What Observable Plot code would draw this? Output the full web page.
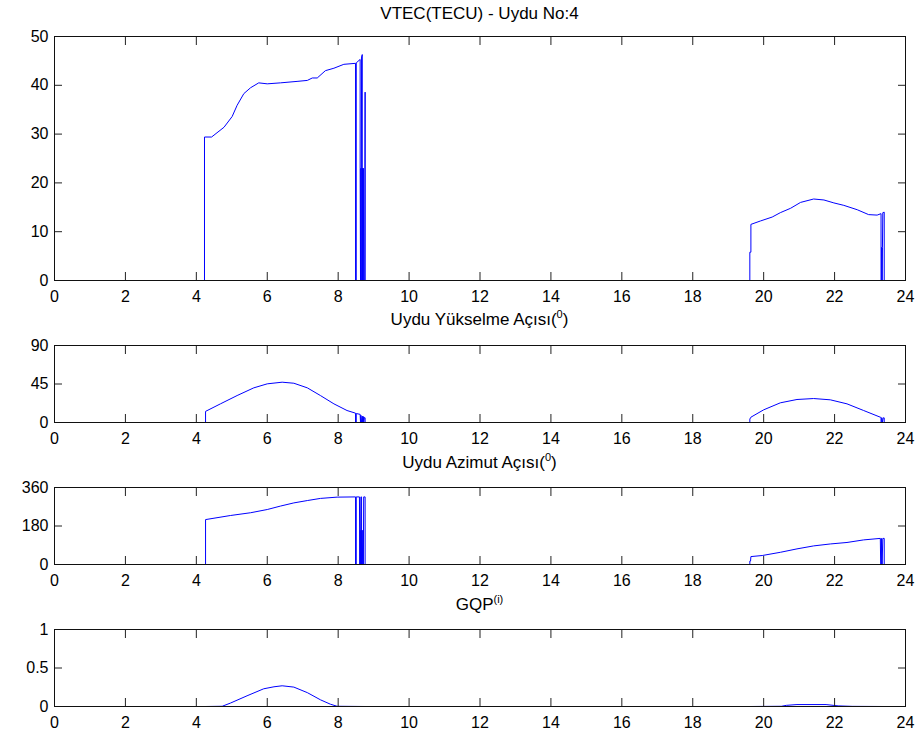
<!DOCTYPE html>
<html><head><meta charset="utf-8">
<script src="https://cdn.jsdelivr.net/npm/d3@7"></script>
<script src="https://cdn.jsdelivr.net/npm/@observablehq/plot@0.6"></script>
<style>
body{margin:0;background:#fff;}
#chart{position:relative;width:922px;height:738px;font-family:"Liberation Sans",Arial,sans-serif;overflow:hidden;}
.title{position:absolute;left:54px;width:851px;text-align:center;font-size:17px;color:#000;line-height:17px;z-index:2;white-space:nowrap;}
.title sup{font-size:11px;vertical-align:7px;line-height:0;}
</style></head><body><div id="chart"></div>
<script>
// ---- data (hour of day, value) ----
const xTicks = [0,2,4,6,8,10,12,14,16,18,20,22,24];

const vtecTicks = [0,10,20,30,40,50];
const vtecPass1 = [[4.23,0],[4.23,29.4],[4.43,29.4],[4.78,31.4],[5.01,33.6],[5.15,35.9],[5.34,38.3],[5.53,39.5],[5.76,40.5],[6.0,40.3],[6.37,40.5],[6.84,40.8],[7.13,41.0],[7.27,41.5],[7.41,41.5],[7.64,43.0],[7.88,43.5],[8.16,44.3],[8.49,44.5],[8.49,0],[8.51,0],[8.51,44.6],[8.62,45.3],[8.62,23],[8.63,0],[8.64,23],[8.65,0],[8.66,45.8],[8.68,46.3],[8.68,0],[8.69,23],[8.70,0],[8.71,23],[8.72,0],[8.75,0],[8.76,38.6],[8.76,0]];
const vtecPass2 = [[19.61,0],[19.61,5.8],[19.64,5.8],[19.64,11.5],[19.91,12.2],[20.24,13.0],[20.47,13.9],[20.76,14.8],[21.04,16.0],[21.41,16.7],[21.70,16.5],[21.98,15.9],[22.26,15.4],[22.64,14.5],[22.96,13.5],[23.20,13.4],[23.31,13.7],[23.31,0],[23.33,0],[23.33,6.8],[23.34,0],[23.35,6.8],[23.36,13.9],[23.40,14.0],[23.40,0]];

const elevTicks = [0,45,90];
const elevPass1 = [[4.26,0],[4.26,13],[4.68,21.8],[5.15,31.5],[5.62,40.5],[6.0,45.2],[6.42,47.1],[6.75,45.9],[7.13,40.5],[7.50,31.5],[7.88,21.8],[8.25,14.0],[8.49,10.9],[8.49,0],[8.51,0],[8.51,10.5],[8.62,9.5],[8.63,0],[8.64,8.5],[8.66,0],[8.68,7.5],[8.69,0],[8.71,7],[8.72,0],[8.74,6],[8.76,5.5],[8.76,0]];
const elevPass2 = [[19.61,0],[19.61,4],[19.64,6.2],[20.0,14.8],[20.47,23.0],[20.94,26.9],[21.41,28.0],[21.88,26.5],[22.35,21.8],[22.82,14.0],[23.29,6.2],[23.31,5.8],[23.31,0],[23.33,0],[23.33,5.6],[23.35,0],[23.37,5.5],[23.40,5.4],[23.40,0]];

const azimTicks = [0,180,360];
const azimPass1 = [[4.26,0],[4.26,210],[4.96,229],[5.53,242],[6.0,257],[6.37,273],[6.75,288],[7.13,299],[7.50,309],[7.97,315],[8.49,316],[8.49,0],[8.51,0],[8.51,316],[8.60,316],[8.61,0],[8.62,160],[8.63,0],[8.64,316],[8.66,316],[8.66,0],[8.67,160],[8.68,0],[8.70,160],[8.71,0],[8.72,316],[8.76,316],[8.76,0]];
const azimPass2 = [[19.61,0],[19.61,16],[19.63,16],[19.64,37],[19.96,42],[20.47,57],[20.94,73],[21.41,87],[21.88,96],[22.35,103],[22.82,115],[23.29,122],[23.30,0],[23.32,0],[23.32,122],[23.34,0],[23.36,122],[23.40,122],[23.40,0]];

const gqpTicks = [0,0.5,1];
const gqpPass1 = [[4.26,0],[4.73,0.003],[4.96,0.044],[5.43,0.139],[5.90,0.23],[6.19,0.256],[6.42,0.269],[6.75,0.252],[7.13,0.18],[7.50,0.087],[7.78,0.03],[7.97,0.003],[8.76,0]];
const gqpPass2 = [[19.62,0],[20.5,0.003],[20.64,0.015],[20.94,0.025],[21.76,0.025],[22.1,0.008],[22.5,0.002],[23.40,0]];

// title: [main text, superscript, text after superscript]
const titles = [["VTEC(TECU) - Uydu No:4", "", ""], ["Uydu Yükselme Açısı(", "0", ")"], ["Uydu Azimut Açısı(", "0", ")"], ["GQP", "(i)", ""]];

// ---- drawing ----
const chart = document.getElementById("chart");
const FONT = '"Liberation Sans", Arial, sans-serif';

function panel(top, height, mt, mb, yDomain, yTicks, passes) {
  const svg = Plot.plot({
    width: 922, height,
    marginTop: mt, marginBottom: mb, marginLeft: 54, marginRight: 17,
    style: {fontSize: "16px", fontFamily: FONT, color: "#000", background: "transparent", overflow: "visible"},
    x: {domain: [0, 24]},
    y: {domain: yDomain},
    marks: [
      ...passes.map(p => Plot.line(p, {x: d => d[0], y: d => d[1], stroke: "#0000ff", strokeWidth: 1})),
      Plot.axisX(xTicks, {anchor: "bottom", tickSize: 0, tickPadding: 10, stroke: "none", label: null}),
      Plot.axisX(xTicks, {anchor: "bottom", tickSize: -8, fill: "none", stroke: "#222"}),
      Plot.axisX(xTicks, {anchor: "top", tickSize: -8, fill: "none", stroke: "#222"}),
      Plot.axisY(yTicks, {anchor: "left", tickSize: 0, tickPadding: 6, stroke: "none", label: null, tickFormat: d => String(d)}),
      Plot.axisY(yTicks, {anchor: "left", tickSize: -8, fill: "none", stroke: "#222"}),
      Plot.axisY(yTicks, {anchor: "right", tickSize: -8, fill: "none", stroke: "#222"}),
      Plot.frame({stroke: "#111"})
    ]
  });
  svg.style.position = "absolute";
  svg.style.left = "0px";
  svg.style.top = top + "px";
  chart.appendChild(svg);
}

function title(i, top) {
  const [main, sup, after] = titles[i];
  const d = document.createElement("div");
  d.className = "title";
  d.style.top = top + "px";
  d.appendChild(document.createTextNode(main));
  if (sup) {
    const s = document.createElement("sup");
    s.textContent = sup;
    d.appendChild(s);
  }
  if (after) d.appendChild(document.createTextNode(after));
  chart.appendChild(d);
}

panel(0, 310, 36, 30, [0, 50], vtecTicks, [vtecPass1, vtecPass2]);
panel(315, 135, 30, 28, [0, 90], elevTicks, [elevPass1, elevPass2]);
panel(457, 135, 30, 28, [0, 360], azimTicks, [azimPass1, azimPass2]);
panel(599, 135, 30, 28, [0, 1], gqpTicks, [gqpPass1, gqpPass2]);

title(0, 5);
title(1, 311);
title(2, 454);
title(3, 596);
</script></body></html>
